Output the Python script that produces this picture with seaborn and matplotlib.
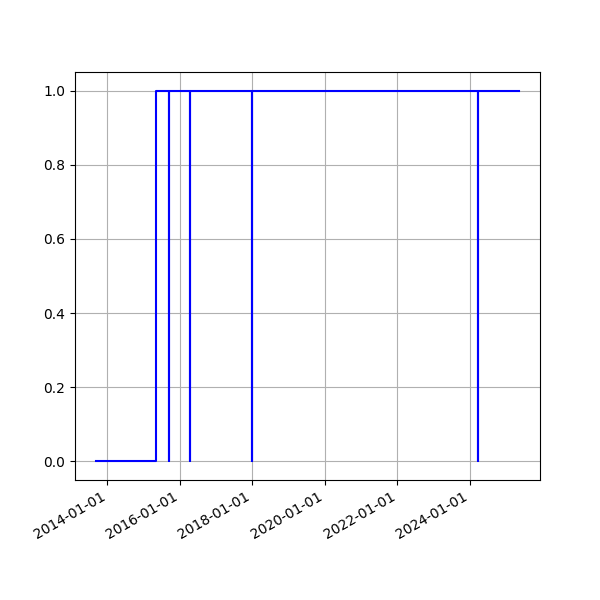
import matplotlib
matplotlib.use("Agg")
import matplotlib.pyplot as plt
import matplotlib.dates as mdates
import pandas as pd
import seaborn as sns

dates = ["2013-09-09", "2015-05-08", "2015-09-12", "2015-09-12", "2016-04-12",
         "2016-04-12", "2018-01-01", "2018-01-01", "2024-03-25", "2024-03-25",
         "2025-05-08"]
status = [0, 1, 0, 1, 0, 1, 0, 1, 0, 1, 1]

x = pd.to_datetime(dates)

fig, ax = plt.subplots(figsize=(6, 6), dpi=100)
sns.lineplot(x=x, y=status, ax=ax, color="blue", drawstyle="steps-post",
             estimator=None, sort=False)

ax.xaxis.set_major_locator(mdates.YearLocator(2))
ax.xaxis.set_major_formatter(mdates.DateFormatter("%Y-%m-%d"))
ax.set_xlabel("")
ax.set_ylabel("")
ax.grid(True)
fig.autofmt_xdate()

plt.savefig("out.png")
